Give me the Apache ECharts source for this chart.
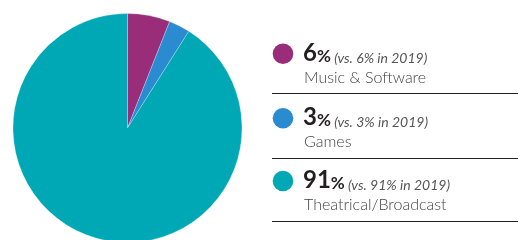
<!DOCTYPE html>
<html>
<head>
<meta charset="utf-8">
<script src="https://cdn.jsdelivr.net/npm/echarts@6/dist/echarts.min.js"></script>
<style>
  html, body { margin: 0; padding: 0; background: #fff; }
  #chart { width: 518px; height: 240px; }
</style>
</head>
<body>
<div id="chart"></div>
<script>
  // chart data
  const categories = ['Music & Software', 'Games', 'Theatrical/Broadcast'];
  const shares = [6, 3, 91];
  const shares2019 = [6, 3, 91];

  const palette = ['#9a2d7a', '#2a8bd0', '#00a8b5'];
  const font = 'Lato, "Open Sans", sans-serif';

  // baseline of the big number in each legend row
  const rowBase = [62.3, 126.7, 189.5];

  let chart = echarts.init(document.getElementById('chart'));

  // legend rows on the right
  let graphics = [];
  categories.forEach(function (name, i) {
    let b = rowBase[i];
    graphics.push({
      type: 'circle',
      shape: { cx: 283, cy: b - 8.5, r: 10.3 },
      style: { fill: palette[i] }
    });
    graphics.push({
      type: 'text',
      x: 303, y: b + 2.7,
      style: {
        text: '{b|' + shares[i] + '}{p|%}{i| (vs. ' + shares2019[i] + '% in 2019)}',
        verticalAlign: 'bottom',
        rich: {
          b: { fontFamily: font, fontSize: 24, fontWeight: 'bold', lineHeight: 24, verticalAlign: 'bottom', fill: '#231f20' },
          p: { fontFamily: font, fontSize: 17, fontWeight: 'bold', lineHeight: 17, verticalAlign: 'bottom', fill: '#231f20' },
          i: { fontFamily: font, fontSize: 14, fontStyle: 'italic', lineHeight: 14, verticalAlign: 'bottom', fill: '#555' }
        }
      }
    });
    graphics.push({
      type: 'text',
      x: 304, y: b + 21 - 5.8,
      style: {
        text: name,
        fontFamily: font, fontSize: 16, fontWeight: 300, fill: '#444',
        verticalAlign: 'middle'
      }
    });
    graphics.push({
      type: 'line',
      shape: { x1: 272, y1: Math.round(b + 31) + 0.5, x2: 518, y2: Math.round(b + 31) + 0.5 },
      style: { stroke: '#231f20', lineWidth: 1 }
    });
  });

  chart.setOption({
    animation: false,
    color: palette,
    legend: { show: false },
    series: [{
      type: 'pie',
      center: [127.5, 128],
      radius: 114.5,
      startAngle: 90,
      clockwise: true,
      label: { show: false },
      labelLine: { show: false },
      itemStyle: { borderColor: 'rgba(255,255,255,0.5)', borderWidth: 0.5 },
      data: categories.map(function (c, i) { return { name: c, value: shares[i] }; })
    }],
    graphic: graphics
  });
</script>
</body>
</html>
